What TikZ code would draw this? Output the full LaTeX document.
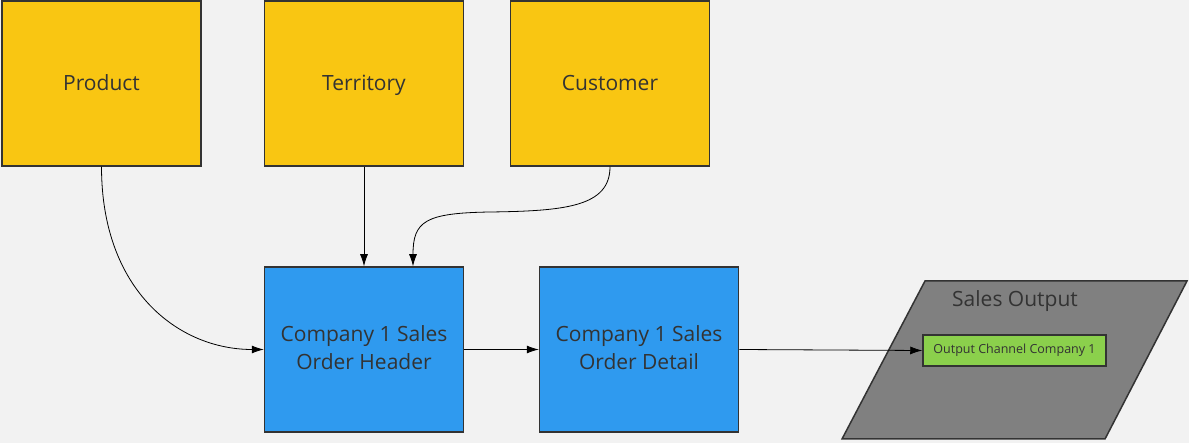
\documentclass[tikz,border=0pt]{standalone}
\usepackage{fontspec}
\setmainfont{Open Sans}
\usetikzlibrary{arrows.meta}
\definecolor{bg}{HTML}{F2F2F2}
\definecolor{yel}{HTML}{F9C612}
\definecolor{blu}{HTML}{2F9AEF}
\definecolor{gry}{HTML}{808080}
\definecolor{grn}{HTML}{8BD04C}
\definecolor{edge}{HTML}{333333}
\definecolor{txt}{HTML}{333333}
\tikzset{
  box/.style={draw=edge, line width=1.5pt, minimum width=199pt, minimum height=165pt,
    inner sep=0pt, align=center, text=txt, font=\fontsize{21}{28}\selectfont},
  ybox/.style={box, fill=yel, text height=17pt, text depth=3pt},
  bbox/.style={box, fill=blu, text depth=4pt},
  gbox/.style={draw=edge, line width=1.5pt, fill=grn, minimum width=183pt, minimum height=31pt,
    inner sep=0pt, text=txt, font=\fontsize{12.5}{15}\selectfont},
  conn/.style={line width=0.8pt, draw=black, -{Latex[length=12pt,width=8pt]}}
}
\begin{document}
\begin{tikzpicture}[x=1pt,y=-1pt]
\fill[bg] (0,0) rectangle (1189,443);
\useasboundingbox (0,0) rectangle (1189,443);
% output parallelogram
\draw[edge, fill=gry, line width=1.5pt, line join=miter] (925,281) -- (1187,281) -- (1105,439) -- (842,439) -- cycle;
\node[text=txt, font=\fontsize{21}{26}\selectfont] (SO) at (1015,301.5) {Sales Output};
% boxes
\node[ybox] (P) at (101.5,83.5) {Product};
\node[ybox] (T) at (364,83.5) {Territory};
\node[ybox] (C) at (610,83.5) {Customer};
\node[bbox] (H) at (364,349.5) {Company 1 Sales\\Order Header};
\node[bbox] (D) at (639,349.5) {Company 1 Sales\\Order Detail};
\node[gbox] (G) at (1014.5,350.5) {Output Channel Company 1};
% connectors
\coordinate (cm) at (490,212);
\draw[conn] (P.south) .. controls +(0,124) and +(-85,0) .. (H.west);
\draw[conn] (T.south) -- (H.north);
\draw[conn] (C.south) .. controls +(0,40) and +(75,-1) .. (cm) .. controls +(-65,1) and +(0,-45) .. ([xshift=49pt]H.north);
\draw[conn] (H.east) -- (D.west);
\draw[conn] (D.east) -- (G.west);
\end{tikzpicture}
\end{document}
